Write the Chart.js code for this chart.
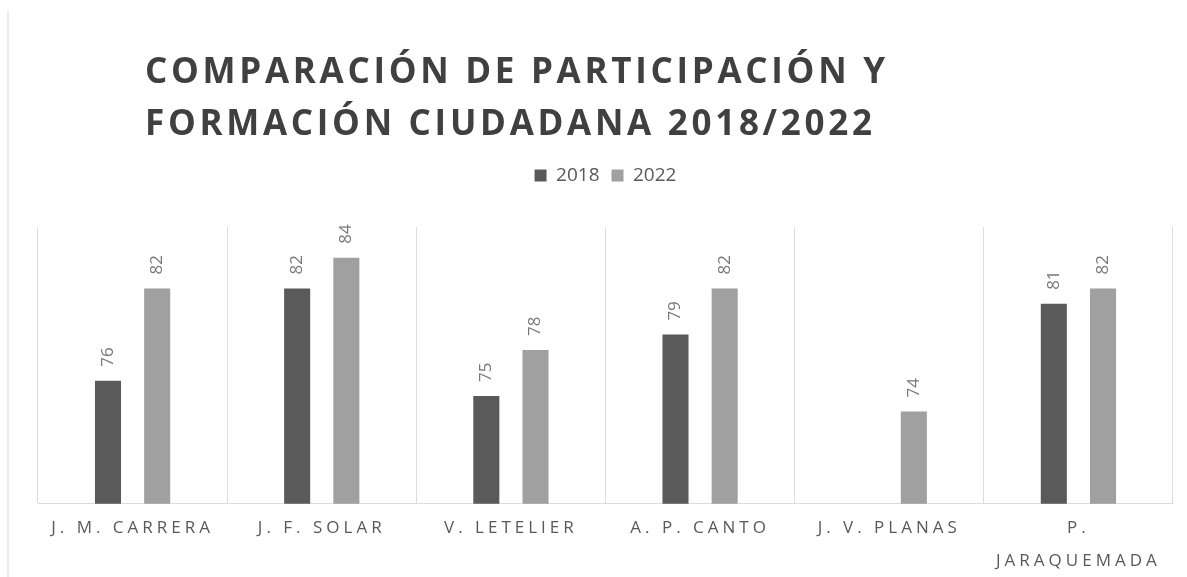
<!DOCTYPE html>
<html>
<head>
<meta charset="utf-8">
<script src="https://cdn.jsdelivr.net/npm/chart.js@4"></script>
<style>
  body { margin: 0; background: #fff; }
  #wrap { position: relative; width: 1187px; height: 577px; }
  #edge { position: absolute; left: 7px; top: 10px; width: 2px; height: 567px; background: #ececec; }
</style>
</head>
<body>
<div id="wrap">
  <div id="edge"></div>
  <canvas id="myChart" width="1187" height="577"></canvas>
</div>
<script>
const titulo = ['COMPARACIÓN DE PARTICIPACIÓN Y', 'FORMACIÓN CIUDADANA 2018/2022'];
const escuelas = [
    'J. M. CARRERA',
    'J. F. SOLAR',
    'V. LETELIER',
    'A. P. CANTO',
    'J. V. PLANAS',
    ['P.', 'JARAQUEMADA']
];
const valores_2018 = [76, 82, 75, 79, null, 81];
const valores_2022 = [82, 84, 78, 82, 74, 82];

const fuente = '"Open Sans", "DejaVu Sans", sans-serif';

// titulo y etiquetas de valor dibujados a mano
const extras = {
    id: 'extras',
    beforeInit(chart) {
        // espacio extra debajo de la leyenda
        const fitOriginal = chart.legend.fit;
        chart.legend.fit = function () {
            fitOriginal.call(this);
            this.height += 32;
        };
    },
    beforeDraw(chart) {
        chart.ctx.letterSpacing = '0px';
    },
    afterDatasetsDraw(chart) {
        // las etiquetas del eje x (z: 1) se dibujan despues de las barras
        chart.ctx.letterSpacing = '4px';
    },
    afterDraw(chart) {
        const ctx = chart.ctx;
        ctx.save();
        ctx.letterSpacing = '0px';
        ctx.fillStyle = '#787878';
        ctx.font = '17px ' + fuente;
        ctx.textAlign = 'left';
        ctx.textBaseline = 'middle';
        chart.data.datasets.forEach((ds, i) => {
            chart.getDatasetMeta(i).data.forEach((bar, j) => {
                if (ds.data[j] == null) return;
                ctx.save();
                ctx.translate(bar.x, bar.y - 14);
                ctx.rotate(-Math.PI / 2);
                ctx.fillText(String(ds.data[j]), 0, 0);
                ctx.restore();
            });
        });

        ctx.letterSpacing = '3.7px';
        ctx.fillStyle = '#404040';
        ctx.font = 'bold 35px ' + fuente;
        ctx.textAlign = 'left';
        ctx.textBaseline = 'alphabetic';
        ctx.fillText(titulo[0], 145, 83);
        ctx.fillText(titulo[1], 145, 135);
        ctx.restore();
    }
};

const ctx = document.getElementById('myChart').getContext('2d');
const myChart = new Chart(ctx, {
    type: 'bar',
    data: {
        labels: escuelas,
        datasets: [
            {
                label: '2018',
                data: valores_2018,
                backgroundColor: '#5a5a5a',
                categoryPercentage: 0.52,
                barPercentage: 0.53,
            },
            {
                label: '2022',
                data: valores_2022,
                backgroundColor: '#a0a0a0',
                categoryPercentage: 0.52,
                barPercentage: 0.53,
            }
        ]
    },
    options: {
        responsive: false,
        animation: false,
        layout: {
            padding: { top: 154, left: 38, right: 14, bottom: -9 }
        },
        plugins: {
            legend: {
                position: 'top',
                labels: {
                    color: '#595959',
                    font: { family: fuente, size: 19 },
                    boxWidth: 12,
                    boxHeight: 12,
                    padding: 12,
                }
            },
            tooltip: { enabled: false }
        },
        scales: {
            x: {
                grid: { color: '#dcdcdc', drawTicks: false },
                border: { color: '#dcdcdc' },
                ticks: {
                    z: 1,
                    color: '#595959',
                    font: { family: fuente, size: 17, lineHeight: 1.95 },
                    padding: 8,
                    autoSkip: false,
                    maxRotation: 0,
                    minRotation: 0,
                }
            },
            y: {
                display: false,
                min: 68,
                max: 86,
            }
        }
    },
    plugins: [extras]
});
</script>
</body>
</html>
